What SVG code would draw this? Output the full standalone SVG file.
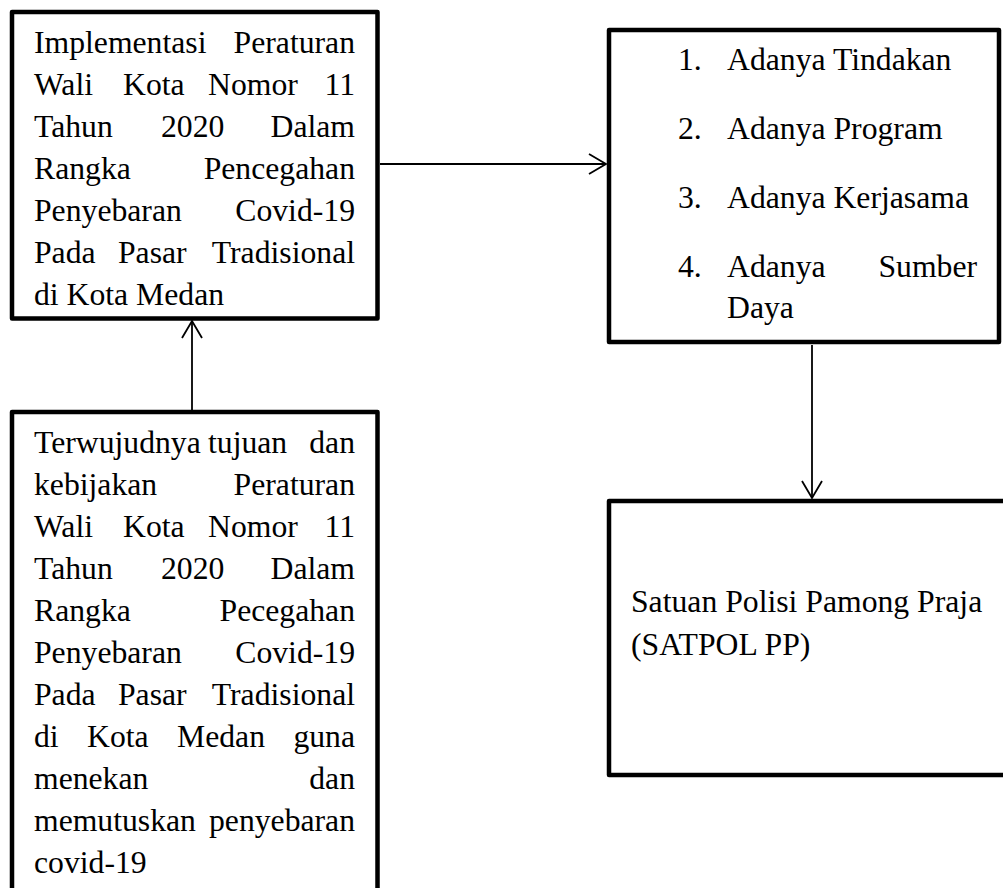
<svg xmlns="http://www.w3.org/2000/svg" width="1003" height="888" viewBox="0 0 1003 888">
<style>
.box{fill:#fff;stroke:#000;stroke-width:4.5;stroke-linejoin:round}
.t{font-family:"Liberation Serif","Times New Roman",serif;font-size:31.7px;fill:#000}
.e{text-anchor:end}
.c{stroke:#000;stroke-width:1.8;fill:none}
</style>
<defs>
<marker id="arr" viewBox="-19 -12 21 24" refX="0" refY="0" markerWidth="21" markerHeight="24" markerUnits="userSpaceOnUse" orient="auto">
<path d="M-17,-10 L0,0 L-17,10" fill="none" stroke="#000" stroke-width="1.8"/>
</marker>
</defs>
<rect width="1003" height="888" fill="#fff"/>
<g id="connectors">
<line class="c" x1="380" y1="164" x2="606" y2="164" marker-end="url(#arr)"/>
<line class="c" x1="192" y1="410" x2="192" y2="321" marker-end="url(#arr)"/>
<line class="c" x1="812" y1="345" x2="812" y2="498" marker-end="url(#arr)"/>
</g>
<g id="node-implementasi">
<rect class="box" x="12" y="12" width="365.5" height="306.5"/>
<text class="t" x="34" y="53">Implementasi</text><text class="t e" x="355" y="53">Peraturan</text>
<text class="t" x="34" y="95">Wali</text><text class="t" x="123" y="95">Kota</text><text class="t" x="208" y="95">Nomor</text><text class="t e" x="355" y="95">11</text>
<text class="t" x="34" y="137">Tahun</text><text class="t" x="161" y="137">2020</text><text class="t e" x="355" y="137">Dalam</text>
<text class="t" x="34" y="179">Rangka</text><text class="t e" x="355" y="179">Pencegahan</text>
<text class="t" x="34" y="221">Penyebaran</text><text class="t e" x="355" y="221">Covid-19</text>
<text class="t" x="34" y="263">Pada</text><text class="t" x="118" y="263">Pasar</text><text class="t e" x="355" y="263">Tradisional</text>
<text class="t" x="34" y="305">di Kota Medan</text>
</g>
<g id="node-terwujudnya">
<rect class="box" x="12" y="412" width="365.5" height="482"/>
<text class="t" x="34" y="453">Terwujudnya</text><text class="t" x="208" y="453">tujuan</text><text class="t e" x="355" y="453">dan</text>
<text class="t" x="34" y="495">kebijakan</text><text class="t e" x="355" y="495">Peraturan</text>
<text class="t" x="34" y="537">Wali</text><text class="t" x="123" y="537">Kota</text><text class="t" x="208" y="537">Nomor</text><text class="t e" x="355" y="537">11</text>
<text class="t" x="34" y="579">Tahun</text><text class="t" x="161" y="579">2020</text><text class="t e" x="355" y="579">Dalam</text>
<text class="t" x="34" y="621">Rangka</text><text class="t e" x="355" y="621">Pecegahan</text>
<text class="t" x="34" y="663">Penyebaran</text><text class="t e" x="355" y="663">Covid-19</text>
<text class="t" x="34" y="705">Pada</text><text class="t" x="118" y="705">Pasar</text><text class="t e" x="355" y="705">Tradisional</text>
<text class="t" x="34" y="747">di</text><text class="t" x="87" y="747">Kota</text><text class="t" x="177" y="747">Medan</text><text class="t e" x="355" y="747">guna</text>
<text class="t" x="34" y="789">menekan</text><text class="t e" x="355" y="789">dan</text>
<text class="t" x="34" y="831">memutuskan</text><text class="t e" x="355" y="831">penyebaran</text>
<text class="t" x="34" y="873">covid-19</text>
</g>
<g id="node-indikator">
<rect class="box" x="609" y="30" width="390" height="312"/>
<text class="t" x="678" y="70">1.</text><text class="t" x="727" y="70">Adanya Tindakan</text>
<text class="t" x="678" y="139">2.</text><text class="t" x="727" y="139">Adanya Program</text>
<text class="t" x="678" y="208">3.</text><text class="t" x="727" y="208">Adanya Kerjasama</text>
<text class="t" x="678" y="277">4.</text><text class="t" x="727" y="277">Adanya</text><text class="t e" x="977" y="277">Sumber</text>
<text class="t" x="727" y="318">Daya</text>
</g>
<g id="node-satpol">
<rect class="box" x="609" y="501" width="404" height="274"/>
<text class="t" x="631" y="612">Satuan Polisi Pamong Praja</text>
<text class="t" x="631" y="655">(SATPOL PP)</text>
</g>
</svg>
